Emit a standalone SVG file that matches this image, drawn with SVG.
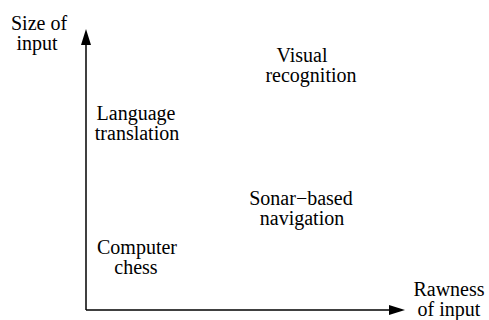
<svg xmlns="http://www.w3.org/2000/svg" width="489" height="320" viewBox="0 0 489 320">
<style>
.t{font-family:'Liberation Serif',serif;font-size:20px;fill:#000;text-anchor:middle}
.ax{stroke:#000;stroke-width:1.5;fill:none}
.hd{fill:#000;stroke:none}
</style>
<g id="connectors">
<path class="ax" d="M86,310 L86,40"/>
<path class="hd" d="M86,29 L91,45 L81,45 Z"/>
<path class="ax" d="M86,310 L395,310"/>
<path class="hd" d="M405,310 L389,315 L389,305 Z"/>
</g>
<g id="y-label"><text class="t" font-family="Liberation Serif" x="39" y="30">Size of</text><text class="t" font-family="Liberation Serif" x="37" y="50">input</text></g>
<g id="x-label"><text class="t" font-family="Liberation Serif" x="449" y="296">Rawness</text><text class="t" font-family="Liberation Serif" x="449" y="316">of input</text></g>
<g id="visual"><text class="t" font-family="Liberation Serif" x="302" y="62">Visual</text><text class="t" font-family="Liberation Serif" x="311" y="82">recognition</text></g>
<g id="language"><text class="t" font-family="Liberation Serif" x="136" y="120">Language</text><text class="t" font-family="Liberation Serif" x="137" y="140">translation</text></g>
<g id="sonar"><text class="t" font-family="Liberation Serif" x="301" y="205">Sonar−based</text><text class="t" font-family="Liberation Serif" x="302" y="225">navigation</text></g>
<g id="chess"><text class="t" font-family="Liberation Serif" x="137" y="254">Computer</text><text class="t" font-family="Liberation Serif" x="136" y="274">chess</text></g>
</svg>
